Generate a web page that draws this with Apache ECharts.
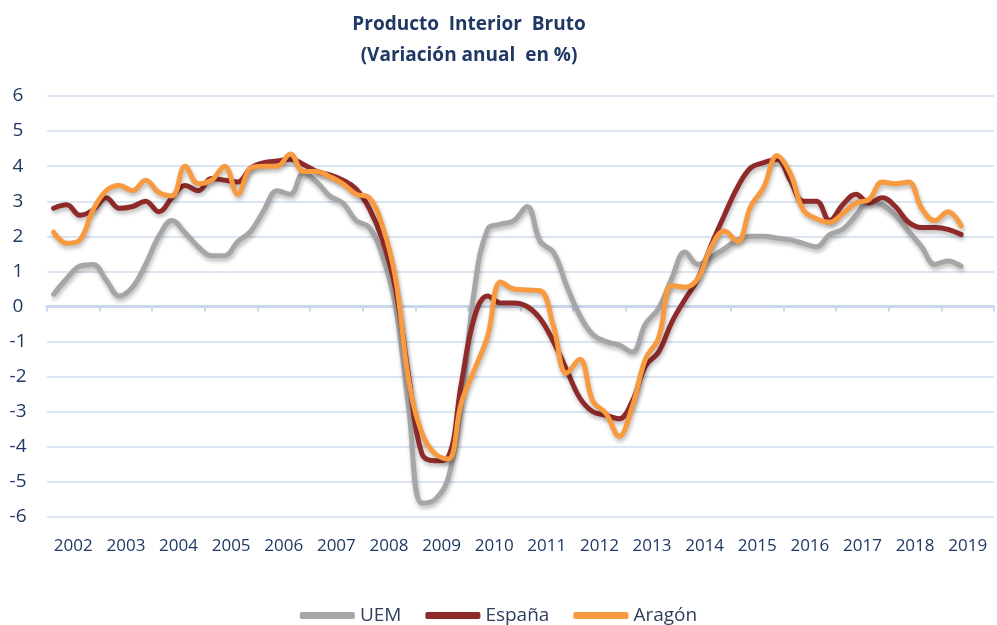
<!DOCTYPE html>
<html>
<head>
<meta charset="utf-8">
<script src="https://cdn.jsdelivr.net/npm/echarts@6/dist/echarts.min.js"></script>
<style>
html,body{margin:0;padding:0;background:#fff;}
#chart{width:997px;height:625px;}
</style>
</head>
<body>
<div id="chart"></div>
<script>
// Year tick labels
var years = ['2002','2003','2004','2005','2006','2007','2008','2009','2010','2011','2012','2013','2014','2015','2016','2017','2018','2019'];
// Quarterly categories (4 per year)
var quarters = [];
years.forEach(function(y){ ['T1','T2','T3','T4'].forEach(function(q){ quarters.push(y + q); }); });

var yTicks = [-6,-5,-4,-3,-2,-1,0,1,2,3,4,5,6];

var uem = [0.35,0.8,1.15,1.2, 0.75,0.3,0.55,1.2, 2.0,2.45,2.1,1.7, 1.45,1.45,1.85,2.15,
  2.75,3.3,3.2,3.8, 3.55,3.15,2.95,2.45, 2.25,1.45,0.0,-2.9, -5.6,-5.5,-4.9,-2.8,
  0.5,2.2,2.35,2.45, 2.85,1.85,1.55,0.6, -0.25,-0.8,-1.0,-1.1, -1.3,-0.5,-0.05,0.8,
  1.55,1.2,1.4,1.65, 1.9,2.0,2.0,1.95, 1.9,1.8,1.7,2.05, 2.2,2.6,3.0,2.9,
  2.6,2.15,1.7,1.2, 1.3,1.15];

var espana = [2.8,2.9,2.6,2.75, 3.1,2.8,2.85,3.0, 2.7,3.1,3.45,3.3, 3.65,3.6,3.55,3.95,
  4.1,4.15,4.2,4.05, 3.85,3.75,3.6,3.35, 2.8,1.9,0.5,-2.0, -4.2,-4.4,-4.3,-2.2,
  -0.3,0.3,0.1,0.1, 0.0,-0.35,-1.0,-1.8, -2.6,-3.0,-3.1,-3.2, -2.7,-1.7,-1.3,-0.45,
  0.2,0.8,1.75,2.6, 3.4,3.95,4.1,4.2, 3.6,3.0,3.0,2.45, 2.9,3.2,2.95,3.1,
  2.85,2.4,2.25,2.25, 2.2,2.05];

var aragon = [2.12,1.8,1.9,2.75, 3.3,3.45,3.3,3.6, 3.25,3.15,4.0,3.5, 3.6,4.0,3.2,3.95,
  4.0,4.0,4.35,3.85, 3.85,3.7,3.5,3.2, 3.1,2.3,0.8,-2.1, -3.6,-4.2,-4.35,-2.75,
  -1.8,-0.85,0.7,0.5, 0.47,0.45,-0.55,-1.9, -1.5,-2.7,-3.05,-3.7, -2.85,-1.5,-0.9,0.6,
  0.55,0.8,1.7,2.15, 1.85,2.85,3.4,4.3, 3.8,2.75,2.5,2.4, 2.65,2.95,3.05,3.55,
  3.5,3.55,2.8,2.45, 2.7,2.3];

var navy = '#1F3864';
var font = 'Open Sans';
var chart = echarts.init(document.getElementById('chart'), null, {renderer:'canvas'});

function lineSeries(name, data, color){
  return {
    name: name, type: 'line', xAxisIndex: 0, data: data,
    smooth: 0.4, symbol: 'none',
    lineStyle: {color: color, width: 5, cap: 'round', join: 'round',
      shadowColor: 'rgba(0,0,0,0.28)', shadowBlur: 4, shadowOffsetX: 1, shadowOffsetY: 3},
    itemStyle: {color: color}
  };
}

chart.setOption({
  animation: false,
  backgroundColor: '#ffffff',
  title: {
    text: 'Producto  Interior  Bruto\n(Variación anual  en %)',
    left: 464, top: 4, textAlign: 'center',
    textStyle: {fontFamily: font, fontSize: 19, fontWeight: 'bold', color: navy, lineHeight: 31}
  },
  grid: {left: 47, right: 3, top: 96, bottom: 108, containLabel: false},
  legend: {
    top: 601, left: 'center', itemWidth: 55, itemHeight: 7, itemGap: 24,
    icon: 'roundRect',
    textStyle: {fontFamily: font, fontSize: 19, color: '#2F3F5C'},
    data: ['UEM','España','Aragón']
  },
  xAxis: [
    {type: 'category', data: quarters, show: false, boundaryGap: true,
      axisLine: {show: false, onZero: false}},
    {type: 'category', data: years, position: 'bottom', boundaryGap: true,
      axisLine: {show: false, onZero: false}, axisTick: {show: false},
      axisLabel: {show: true, interval: 0, margin: 21, fontFamily: font, fontSize: 17, color: navy}},
    {type: 'category', data: years, position: 'bottom', boundaryGap: true,
      axisLine: {show: true, onZero: true, lineStyle: {color: '#C9D7EC', width: 3}},
      axisTick: {show: true, length: 5, lineStyle: {color: '#C9D7EC', width: 2}},
      axisLabel: {show: false}}
  ],
  yAxis: {
    type: 'value', min: yTicks[0], max: yTicks[yTicks.length-1], interval: 1,
    axisLine: {show: false}, axisTick: {show: false},
    axisLabel: {margin: 29, align: 'center', fontFamily: font, fontSize: 19, color: navy},
    splitLine: {lineStyle: {color: '#DCE5F2', width: 2}}
  },
  series: [
    lineSeries('UEM', uem, '#A6A6A6'),
    lineSeries('España', espana, '#8E2B2A'),
    lineSeries('Aragón', aragon, '#F79A40')
  ]
});
</script>
</body>
</html>
